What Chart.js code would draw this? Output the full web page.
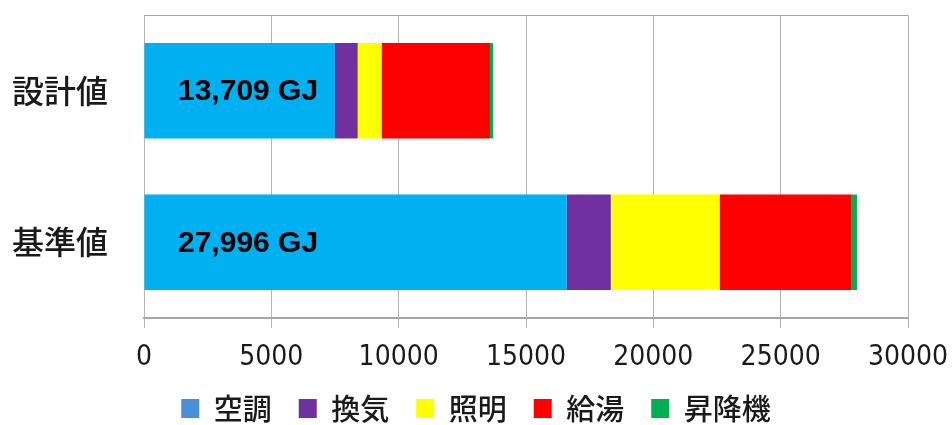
<!DOCTYPE html>
<html>
<head>
<meta charset="utf-8">
<script src="https://cdn.jsdelivr.net/npm/chart.js@4"></script>
<style>
  html, body { margin: 0; padding: 0; background: #fff; }
  #wrap { width: 952px; height: 425px; }
</style>
</head>
<body>
<div id="wrap"><canvas id="bar-chart" width="952" height="425"></canvas></div>
<script>
// categories and series (GJ)
const categories = ["設計値", "基準値"];
const seriesNames = ["空調", "換気", "照明", "給湯", "昇降機"];
const aircon = [7500, 16600];
const ventilation = [891, 1730];
const lighting = [942, 4280];
const hotWater = [4252, 5180];
const elevator = [124, 206];
const xTicks = [0, 5000, 10000, 15000, 20000, 25000, 30000];

const barColors = ["#00B0F0", "#7030A0", "#FFFF00", "#FF0000", "#00B050"];
const legendColors = ["#4A8FD8", "#7030A0", "#FFFF00", "#FF0000", "#00B050"];

const seriesValues = [aircon, ventilation, lighting, hotWater, elevator];

const jpFont = "'Noto Sans CJK JP', 'Noto Sans', sans-serif";
const numFont = "'DejaVu Sans Condensed', 'Liberation Sans', sans-serif";

// top border of plot + total labels inside the bars, legend nudged right
const extrasPlugin = {
  id: "extras",
  afterLayout: (chart) => {
    chart.legend.left += 22;
    chart.legend.right += 22;
  },
  afterDatasetsDraw: (chart) => {
    const ctx = chart.ctx;
    const area = chart.chartArea;
    ctx.save();
    ctx.strokeStyle = "#a6a6a6";
    ctx.lineWidth = 1;
    ctx.beginPath();
    ctx.moveTo(area.left, area.top + 0.5);
    ctx.lineTo(area.right, area.top + 0.5);
    ctx.stroke();

    const yScale = chart.scales.y;
    ctx.fillStyle = "#000";
    ctx.font = "bold 30px 'Liberation Sans', Arial, sans-serif";
    ctx.textAlign = "left";
    ctx.textBaseline = "middle";
    categories.forEach((cat, i) => {
      const total = seriesValues.reduce((s, arr) => s + arr[i], 0);
      ctx.fillText(total.toLocaleString("en-US") + " GJ", area.left + 34, yScale.getPixelForValue(i) + 1);
    });
    ctx.restore();
  },
};

const chart = new Chart("bar-chart", {
  type: "bar",
  data: {
    labels: categories,
    datasets: seriesNames.map((name, i) => ({
      label: name,
      data: seriesValues[i],
      backgroundColor: barColors[i],
      borderWidth: 0,
      barPercentage: 0.63,
      categoryPercentage: 1.0,
    })),
  },
  options: {
    indexAxis: "y",
    responsive: false,
    animation: false,
    layout: { padding: { top: 15, right: 44, left: 0, bottom: 0 } },
    plugins: {
      tooltip: { enabled: false },
      legend: {
        position: "bottom",
        maxHeight: 58,
        labels: {
          boxWidth: 18,
          boxHeight: 19,
          padding: 27,
          color: "#1a1a1a",
          font: { family: jpFont, size: 29, weight: "500" },
          generateLabels: (c) =>
            c.data.datasets.map((ds, i) => ({
              text: ds.label,
              fillStyle: legendColors[i],
              strokeStyle: legendColors[i],
              lineWidth: 0,
              hidden: false,
              datasetIndex: i,
              fontColor: "#1a1a1a",
            })),
        },
      },
    },
    scales: {
      x: {
        stacked: true,
        min: 0,
        max: 30000,
        afterBuildTicks: (axis) => {
          axis.ticks = xTicks.map((v) => ({ value: v }));
        },
        afterFit: (axis) => {
          axis.height = 49;
          axis.paddingLeft = 0;
          axis.paddingRight = 0;
        },
        ticks: {
          color: "#1a1a1a",
          padding: 13,
          font: { family: numFont, size: 28 },
          maxRotation: 0,
          callback: (v) => String(v),
        },
        grid: {
          color: "#b4b4b4",
          lineWidth: 1,
          tickLength: 10,
          drawTicks: true,
        },
        border: { color: "#a6a6a6", width: 2 },
      },
      y: {
        stacked: true,
        afterFit: (axis) => {
          axis.width = 144;
          axis.paddingTop = 0;
          axis.paddingBottom = 0;
        },
        ticks: {
          color: "#1a1a1a",
          padding: 4,
          font: { family: jpFont, size: 32, weight: "500" },
        },
        grid: { display: true, color: "rgba(0,0,0,0)", drawTicks: true, tickLength: 32 },
        border: { display: false },
      },
    },
  },
  plugins: [extrasPlugin],
});
</script>
</body>
</html>
